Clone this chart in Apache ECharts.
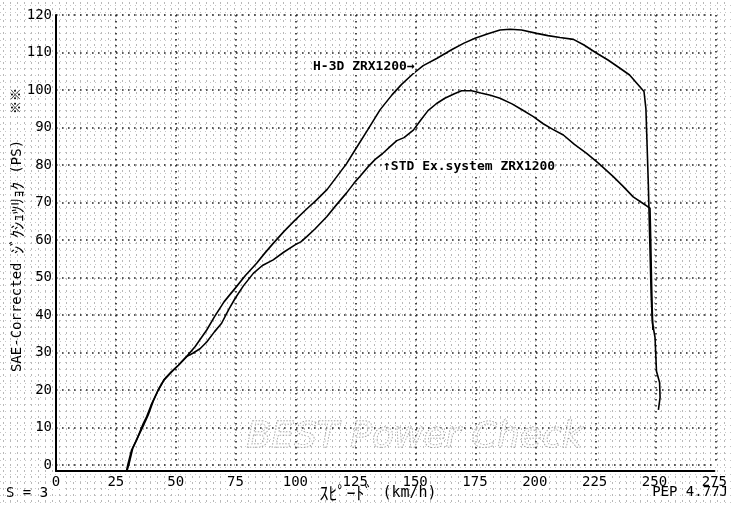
<!DOCTYPE html>
<html>
<head>
<meta charset="utf-8">
<script src="https://cdn.jsdelivr.net/npm/echarts@6/dist/echarts.min.js"></script>
<style>
html,body{margin:0;padding:0;background:#fff;}
#wrap{width:731px;height:506px;position:relative;
  background-color:#fff;
  background-image:
    radial-gradient(circle, #b8b8b8 0.7px, rgba(255,255,255,0) 0.9px),
    radial-gradient(circle, #c8c8c8 0.6px, rgba(255,255,255,0) 0.8px);
  background-size:7px 6px, 5px 7px;
  background-position:0 0, 3px 2px;}
#chart{width:731px;height:506px;}
</style>
</head>
<body>
<div id="wrap"><div id="chart"></div></div>
<script>
// ---- data ----
const xTicks = [0,25,50,75,100,125,150,175,200,225,250,275];
const yTicks = [0,10,20,30,40,50,60,70,80,90,100,110,120];

const h3dSpeed = [29.4,29.9,31.5,33.6,36.4,37.8,40,42.6,45,48.2,51,54.4,58,62.8,66,70,74.6,79,83.6,87,90.5,95,99.6,104,108.6,113,117,121,124.6,130,135,140,144,148.9,153,158.6,165,170,174.6,180,185,189.2,194,200.3,205,210,215.6,220,225.3,230,235,239,242,245,245.8,246.3,246.8,247.2,247.6,248,248.5,249.6,250.2,251.5,251.7,251];
const h3dPower = [-1.5,0,4,6.7,11.1,12.9,16.5,20,22.7,24.9,26.6,28.9,31.6,36,39.5,43.5,47.1,50.6,53.8,56.5,59.1,62.3,65.3,68,70.7,73.5,76.9,80.3,84,89.5,94.7,98.7,101.5,104.4,106.5,108.4,110.8,112.5,113.8,115,116,116.2,116,115.1,114.5,114,113.5,112,109.8,108,105.8,104,101.8,99.6,95,85,75,65,55,45,38,34,25,22,18,14.7];

const stdSpeed = [29.6,30.3,32,34,36.4,38.5,40.5,42.6,45,48.2,51,54.4,57,60,62.8,66,69,72,74.6,78,82.2,86,90.5,95,99.6,102,104.5,108,112.8,117,121,124.6,126.7,130,133,136,139.2,142,145,148.9,152,155,158.6,162,166,169,173.2,177,181,185,190,194,198.9,203,207,211.4,216,221.1,226,232.2,236,240.5,244,247.5,247.8,248.1,248.4,248.7];
const stdPower = [-1.5,0,4.5,7.3,10.5,13.5,17,20,22.7,24.9,26.6,28.9,29.8,31,32.8,35.5,37.8,41.5,44.4,47.7,51.1,53.2,54.7,56.8,58.7,59.5,60.9,63,66.2,69.5,72.5,75.5,77,79.5,81.5,83,84.9,86.5,87.3,89.3,92,94.5,96.4,97.8,99,99.8,99.8,99.2,98.6,97.8,96.3,94.8,92.9,91,89.5,88,85.5,83.1,80.5,76.9,74.5,71.5,70,68.5,60,50,42,36];

const seriesNames = ['H-3D ZRX1200','STD Ex.system ZRX1200'];
const annotH3D = 'H-3D ZRX1200\u2192';
const annotSTD = '\u2191STD Ex.system ZRX1200';
const yTitleA = 'SAE-Corrected ';
const yTitleK = 'ｼﾞｸｼｭﾂﾘｮｸ';
const yTitleB = ' (PS)';
const xTitleK = 'ｽﾋﾟｰﾄﾞ';
const xTitleB = ' (km/h)';
const cornerLeft = 'S = 3';
const cornerRight = 'PEP 4.77J';
const watermark = 'BEST Power Check';

// ---- build ----
const zip = (xs, ys) => xs.map((x, i) => [x, ys[i]]);
const FONT = '"DejaVu Sans Mono","Noto Sans CJK JP",monospace';
const KFONT = '"Noto Sans CJK JP"';
const dotted = {color:'#222', width:1.6, type:[1.6,4.4]};

const chart = echarts.init(document.getElementById('chart'), null, {renderer:'canvas'});
chart.setOption({
  animation:false,
  backgroundColor:'transparent',
  grid:[
    {left:56, right:15, top:15, bottom:41},
    {left:56, right:15, top:15, bottom:35}
  ],
  xAxis:[
    {gridIndex:0, type:'value', min:xTicks[0], max:xTicks[xTicks.length-1], interval:25,
     axisLine:{show:false}, axisTick:{show:false}, axisLabel:{show:false},
     splitLine:{show:true, lineStyle:dotted}},
    {gridIndex:1, type:'value', min:xTicks[0], max:xTicks[xTicks.length-1], interval:25,
     axisLine:{show:true, lineStyle:{color:'#000', width:2}}, axisTick:{show:false},
     axisLabel:{show:true, color:'#000', fontFamily:FONT, fontSize:14, margin:4,
       backgroundColor:'#fff', padding:[0,1],
       formatter:v => xTicks.indexOf(v) >= 0 ? String(v) : ''},
     splitLine:{show:false}}
  ],
  yAxis:[
    {gridIndex:0, type:'value', min:yTicks[0], max:yTicks[yTicks.length-1], interval:10,
     axisLine:{show:false}, axisTick:{show:false},
     axisLabel:{show:true, color:'#000', fontFamily:FONT, fontSize:14, margin:4,
       formatter:v => yTicks.indexOf(v) >= 0 ? String(v) : ''},
     splitLine:{show:true, lineStyle:dotted}},
    {gridIndex:1, type:'value', min:0, max:1,
     axisLine:{show:true, lineStyle:{color:'#000', width:2}}, axisTick:{show:false},
     axisLabel:{show:false}, splitLine:{show:false}}
  ],
  series:[
    {name:seriesNames[0], type:'line', xAxisIndex:0, yAxisIndex:0, data:zip(h3dSpeed,h3dPower),
     showSymbol:false, clip:false, lineStyle:{color:'#000', width:1.6}},
    {name:seriesNames[1], type:'line', xAxisIndex:0, yAxisIndex:0, data:zip(stdSpeed,stdPower),
     showSymbol:false, clip:false, lineStyle:{color:'#000', width:1.6}}
  ],
  graphic:[
    {type:'text', z:1, left:246, top:419, style:{text:watermark, font:'italic 36px "DejaVu Sans"',
      fill:'rgba(255,255,255,0.6)', stroke:'#888', lineWidth:1, lineDash:[1.5,1.5]}},
    {type:'text', z:10, left:313, top:60, style:{text:annotH3D, font:'bold 13px '+FONT, fill:'#000',
      backgroundColor:'#fff'}},
    {type:'text', z:10, left:383, top:160, style:{text:annotSTD, font:'bold 13px '+FONT, fill:'#000',
      backgroundColor:'#fff'}},
    {type:'text', z:10, x:17, y:256, rotation:Math.PI/2,
      style:{text:'{a|'+yTitleA+'}{k|'+yTitleK+'}{a|'+yTitleB+'}', align:'center', verticalAlign:'middle',
        rich:{a:{font:'14px '+FONT, fill:'#000', color:'#000'}, k:{font:'16px '+KFONT, color:'#000'}}}},
    {type:'text', z:10, x:17, y:101, rotation:Math.PI/2,
      style:{text:'※※', font:'13px '+FONT, fill:'#000', align:'center', verticalAlign:'middle'}},
    {type:'text', z:10, x:378, y:493,
      style:{text:'{k|'+xTitleK+'}{a|'+xTitleB+'}', align:'center', verticalAlign:'middle',
        rich:{a:{font:'15px '+FONT, color:'#000'}, k:{font:'18px '+KFONT, color:'#000'}}}},
    {type:'text', z:10, x:6, y:493,
      style:{text:cornerLeft, font:'14px '+FONT, fill:'#000', align:'left', verticalAlign:'middle'}},
    {type:'text', z:10, x:728, y:492,
      style:{text:cornerRight, font:'14px '+FONT, fill:'#000', align:'right', verticalAlign:'middle'}}
  ]
});
</script>
</body>
</html>
